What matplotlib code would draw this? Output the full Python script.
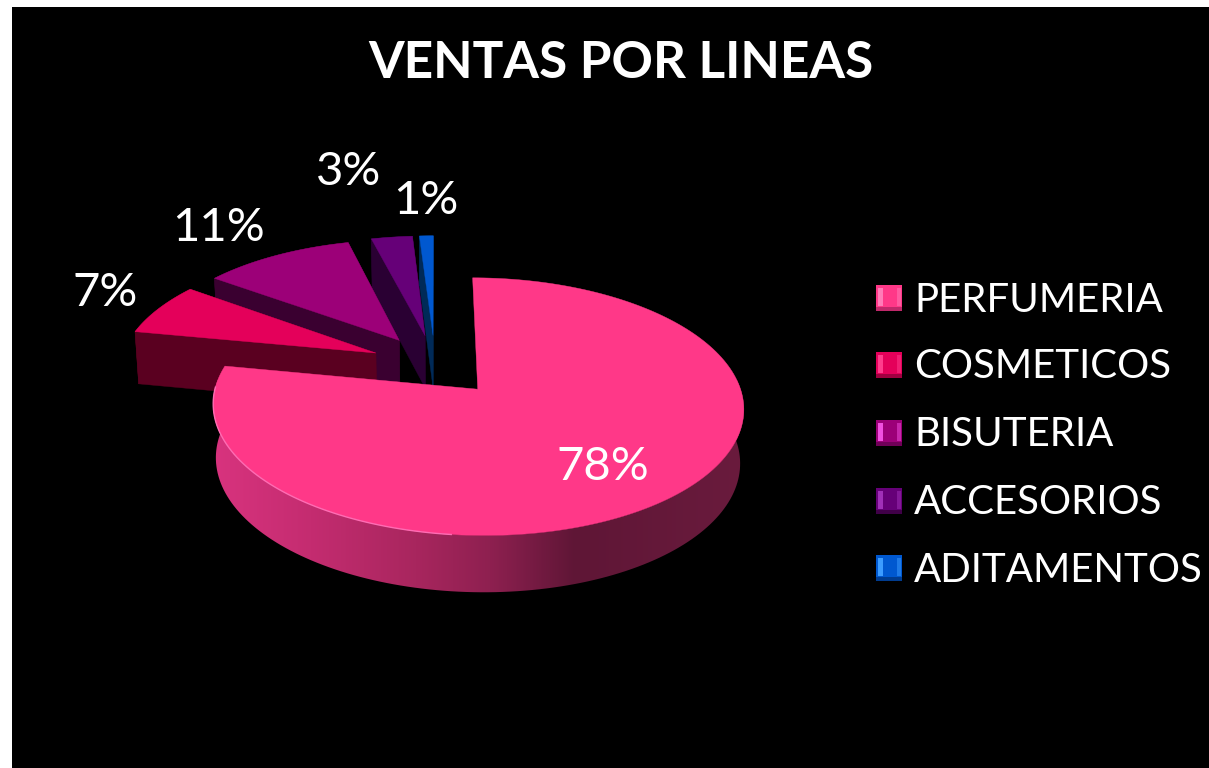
import matplotlib
matplotlib.use("Agg")
import matplotlib.pyplot as plt
import numpy as np
from matplotlib.colors import LinearSegmentedColormap
from matplotlib.patches import Polygon, Rectangle

# Data
labels = ["PERFUMERIA", "COSMETICOS", "BISUTERIA", "ACCESORIOS", "ADITAMENTOS"]
values = [78, 7, 11, 3, 1]

# Styles and layout (pixel coordinates of the 1209x768 canvas)
top_colors = ["#FF3888", "#E4005A", "#9C0078", "#660078", "#0058D0"]
wall_colors = ["#A8265E", "#5A0020", "#3A0030", "#2A0033", "#002A58"]
light_colors = ["#FF7CB8", "#FF3C8C", "#F050E0", "#A030B8", "#3C9CFF"]
dark_colors = ["#C0286A", "#A00040", "#700058", "#400048", "#003C90"]
pct_xy = [(603, 467), (105, 293), (219, 228), (349, 172), (426, 201)]
legend_y = [298, 365, 433, 501, 568]

EXPLODE = 0.255
X0, Y0 = 435, 365
R, S, K = 256, 120, 0.132
DEPTH, SHRINK = 53, 0.988
FONT = "Lato"


def project(u, v, drop=False):
    den = 1 + K * v
    x = X0 + R * u / den
    y = Y0 - S * v / den
    if drop:
        x = X0 + (x - X0) * SHRINK
        y = y + DEPTH / den**0.4
    return np.column_stack([x, y])


def slice_parts(a0, a1):
    # angles are clockwise from 12 o'clock, the whole pie is exploded
    mid = np.radians((a0 + a1) / 2)
    cu, cv = EXPLODE * np.sin(mid), EXPLODE * np.cos(mid)
    ang = np.radians(np.linspace(a0, a1, 200))
    au, av = cu + np.sin(ang), cv + np.cos(ang)
    return np.array([cu]), np.array([cv]), au, av


fig = plt.figure(figsize=(12.09, 7.68), dpi=100, facecolor="white")
ax = fig.add_axes([0, 0, 1, 1])
ax.axis("off")
ax.add_patch(Rectangle((12, 7), 1209, 768, facecolor="black", edgecolor="none", zorder=0))

fractions = np.array(values) / sum(values) * 360
starts = np.concatenate([[0], np.cumsum(fractions)[:-1]])

# back slices first so the front ones paint over them
z = 1
for i in reversed(range(len(values))):
    a0, a1 = starts[i], starts[i] + fractions[i]
    cu, cv, au, av = slice_parts(a0, a1)
    top_arc = project(au, av)
    low_arc = project(au, av, drop=True)
    vert = project(cu, cv)
    vert_low = project(cu, cv, drop=True)

    wall = np.vstack([top_arc, low_arc[::-1]])
    if i == 0:
        # main slice wall: shaded from light on the left to dark on the right
        cmap = LinearSegmentedColormap.from_list(
            "wall",
            [(0.0, "#D8337E"), (0.18, "#C42C70"), (0.38, "#A8265E"),
             (0.52, "#8E2050"), (0.68, "#5F1636"), (1.0, "#6A1B3D")],
        )
        im = ax.imshow(
            np.linspace(0, 1, 256).reshape(1, -1),
            cmap=cmap,
            extent=[215, 745, 620, 380],
            aspect="auto",
            zorder=z,
        )
        clip = Polygon(wall, closed=True, transform=ax.transData, facecolor="none", edgecolor="none")
        ax.add_patch(clip)
        im.set_clip_path(clip)
    else:
        for edge, edge_low in [(top_arc[0], low_arc[0]), (top_arc[-1], low_arc[-1])]:
            face = np.vstack([vert, edge, edge_low, vert_low])
            ax.add_patch(Polygon(face, closed=True, facecolor=wall_colors[i],
                                 edgecolor=wall_colors[i], linewidth=0.3, zorder=z))
        ax.add_patch(Polygon(wall, closed=True, facecolor=wall_colors[i],
                             edgecolor=wall_colors[i], linewidth=0.3, zorder=z))
    z += 1

    top = np.vstack([vert, top_arc])
    ax.add_patch(Polygon(top, closed=True, facecolor=top_colors[i],
                         edgecolor=top_colors[i], linewidth=0.3, zorder=z))
    z += 1

    if i == 0:
        # thin highlight along the front left rim
        rim = np.degrees(np.arctan2(au - cu[0], av - cv[0])) % 360
        mask = (rim > 185) & (rim < 272)
        ax.plot(top_arc[mask, 0], top_arc[mask, 1], color="#FF6CB4", lw=1.0, zorder=z)
        z += 1

# percent labels
for val, (x, y) in zip(values, pct_xy):
    ax.text(x, y, f"{val}%", color="white", fontsize=34, family=FONT,
            ha="center", va="center", zorder=z)

# legend
for i, (lab, y) in enumerate(zip(labels, legend_y)):
    ax.add_patch(Rectangle((876, y - 13), 26, 26, facecolor=top_colors[i], edgecolor="none", zorder=z))
    ax.add_patch(Rectangle((876, y + 9), 26, 4, facecolor=dark_colors[i], edgecolor="none", zorder=z + 1))
    ax.add_patch(Rectangle((878, y - 10), 5, 18, facecolor=light_colors[i], edgecolor="none", zorder=z + 1))
    ax.add_patch(Rectangle((897, y - 10), 4, 18, facecolor=light_colors[i], edgecolor="none", alpha=0.5, zorder=z + 1))
    ax.text(914, y + 2, lab, color="white", fontsize=29, family=FONT,
            ha="left", va="center", zorder=z)

ax.text(621, 63, "VENTAS POR LINEAS", color="white", fontsize=37, family=FONT,
        fontweight="bold", ha="center", va="center", zorder=z)

ax.set_xlim(0, 1209)
ax.set_ylim(768, 0)

fig.savefig("out.png", dpi=100, facecolor="white")
